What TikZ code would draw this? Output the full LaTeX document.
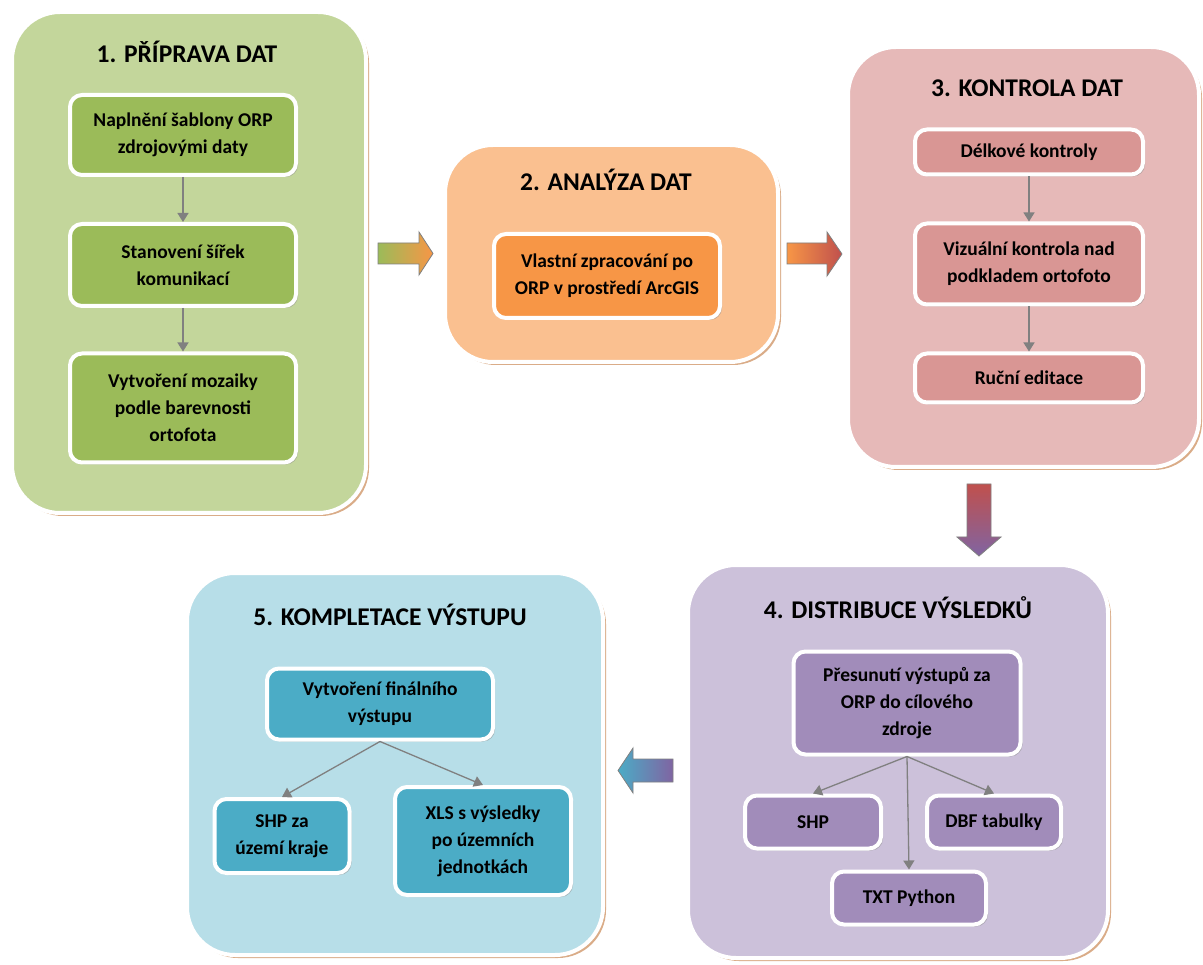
\documentclass[tikz,border=0pt]{standalone}
\usepackage{fontspec}
\setmainfont{Carlito}
\usetikzlibrary{arrows.meta,positioning,fit,shadows}
\definecolor{pgreen}{HTML}{C3D69B}
\definecolor{pgreend}{HTML}{9BBB59}
\definecolor{porange}{HTML}{FAC090}
\definecolor{porangedd}{HTML}{F79646}
\definecolor{ppink}{HTML}{E6B9B8}
\definecolor{ppinkd}{HTML}{D99694}
\definecolor{ppurple}{HTML}{CCC1DA}
\definecolor{ppurpled}{HTML}{A18CBA}
\definecolor{pblue}{HTML}{B7DEE8}
\definecolor{pblued}{HTML}{4BACC6}
\definecolor{pred}{HTML}{C0504D}
\definecolor{pviolet}{HTML}{8064A2}
\definecolor{tanshadow}{HTML}{D6A47C}
\definecolor{linkgray}{HTML}{808080}
\tikzset{
  % big stage panel: pastel fill, white rim, tan shadow
  panel/.style = {rectangle, rounded corners=48pt, draw=white, line width=4pt, fill=#1,
                  inner sep=0pt,
                  drop shadow={shadow xshift=3pt, shadow yshift=-3pt, fill=tanshadow, opacity=.9}},
  ttl/.style   = {font=\bfseries\fontsize{25.5}{30}\selectfont, text=black},
  blk/.style   = {rectangle, rounded corners=12pt, draw=white, line width=4pt, fill=#1,
                  align=center, inner sep=0pt, font=\bfseries\fontsize{19.5}{27}\selectfont,
                  drop shadow={shadow xshift=2pt, shadow yshift=-2pt, fill=black!45, opacity=.5}},
  link/.style  = {-{Triangle[length=9pt,width=11pt]}, line width=1.3pt, draw=linkgray},
  flow/.style  = {draw=linkgray, line width=.8pt},
}

\begin{document}
\begin{tikzpicture}[x=1pt,y=-1pt]
\useasboundingbox (0,0) rectangle (1203,965);
\fill[white] (0,0) rectangle (1203,965);
% --- stage panels ------------------------------------------------------
\node[panel=pgreen,  fit={(12,12) (366,513)}]   (prep) {};
\node[panel=porange, fit={(445,145) (778,362)}] (anal) {};
\node[panel=ppink,   fit={(848,47) (1199,467)}] (ctrl) {};
\node[panel=ppurple, fit={(688,565) (1108,958)}] (dist) {};
\node[panel=pblue,   fit={(187,573) (603,955)}] (comp) {};
\node[ttl] (prep-t) at (187,52)  {1. PŘÍPRAVA DAT};
\node[ttl] (anal-t) at (606,180) {2. ANALÝZA DAT};
\node[ttl] (ctrl-t) at (1027,88) {3. KONTROLA DAT};
\node[ttl] (dist-t) at (898,608) {4. DISTRIBUCE VÝSLEDKŮ};
\node[ttl] (comp-t) at (390,615) {5. KOMPLETACE VÝSTUPU};
% --- 1. priprava -------------------------------------------------------
\node[blk=pgreend, minimum width=226pt, minimum height=80pt]  (fill)   at (183,135) {Naplnění šablony ORP\\zdrojovými daty};
\node[blk=pgreend, minimum width=226pt, minimum height=82pt]  (width)  at (183,265) {Stanovení šířek\\komunikací};
\node[blk=pgreend, minimum width=226pt, minimum height=109pt] (mosaic) at (183,408) {Vytvoření mozaiky\\podle barevnosti\\ortofota};
\draw[link] (fill) -- (width);
\draw[link] (width) -- (mosaic);
% --- 2. analyza --------------------------------------------------------
\node[blk=porangedd, minimum width=226pt, minimum height=84pt] (proc) at (607,276) {Vlastní zpracování po\\ORP v prostředí ArcGIS};
% --- 3. kontrola -------------------------------------------------------
\node[blk=ppinkd, minimum width=228pt, minimum height=45pt] (length) at (1029,152) {Délkové kontroly};
\node[blk=ppinkd, minimum width=228pt, minimum height=81pt] (visual) at (1029,264) {Vizuální kontrola nad\\podkladem ortofoto};
\node[blk=ppinkd, minimum width=228pt, minimum height=49pt] (manual) at (1029,378) {Ruční editace};
\draw[link] (length) -- (visual);
\draw[link] (visual) -- (manual);
% --- 4. distribuce -----------------------------------------------------
\node[blk=ppurpled, minimum width=227pt, minimum height=103pt] (move) at (907,703) {Přesunutí výstupů za\\ORP do cílového\\zdroje};
\node[blk=ppurpled, minimum width=136pt, minimum height=53pt]  (shp)  at (813,822) {SHP};
\node[blk=ppurpled, minimum width=134pt, minimum height=53pt]  (dbf)  at (994,822) {DBF tabulky};
\node[blk=ppurpled, minimum width=154pt, minimum height=53pt]  (txt)  at (909,898) {TXT Python};
\draw[link] (move.south) -- (shp.north);
\draw[link] (move.south) -- (dbf.north);
\draw[link] (move.south) -- (txt.north);
% --- 5. kompletace -----------------------------------------------------
\node[blk=pblued, minimum width=226pt, minimum height=71pt]  (final) at (380,704) {Vytvoření finálního\\výstupu};
\node[blk=pblued, minimum width=135pt, minimum height=74pt]  (shpk)  at (282,836) {SHP za\\území kraje};
\node[blk=pblued, minimum width=176pt, minimum height=108pt] (xls)   at (483,841) {XLS s výsledky\\po územních\\jednotkách};
\draw[link] (final.south) -- (shpk.north);
\draw[link] (final.south) -- (xls.north);
% --- arrows between the stages -----------------------------------------
\shade[flow, left color=pgreend, right color=porangedd]
  (378,243) -- (419,243) -- (419,232) -- (433,253.5) -- (419,275) -- (419,264) -- (378,264) -- cycle;
\shade[flow, left color=porangedd, right color=pred]
  (787,243) -- (827,243) -- (827,232) -- (842,254) -- (827,276) -- (827,264) -- (787,264) -- cycle;
\shade[flow, top color=pred, bottom color=pviolet]
  (967,484) -- (991,484) -- (991,537) -- (1001,537) -- (979,556) -- (957,537) -- (967,537) -- cycle;
\shade[flow, left color=pblued, right color=pviolet]
  (673,759) -- (633,759) -- (633,748) -- (618,770.5) -- (633,793) -- (633,782) -- (673,782) -- cycle;
\end{tikzpicture}
\end{document}
